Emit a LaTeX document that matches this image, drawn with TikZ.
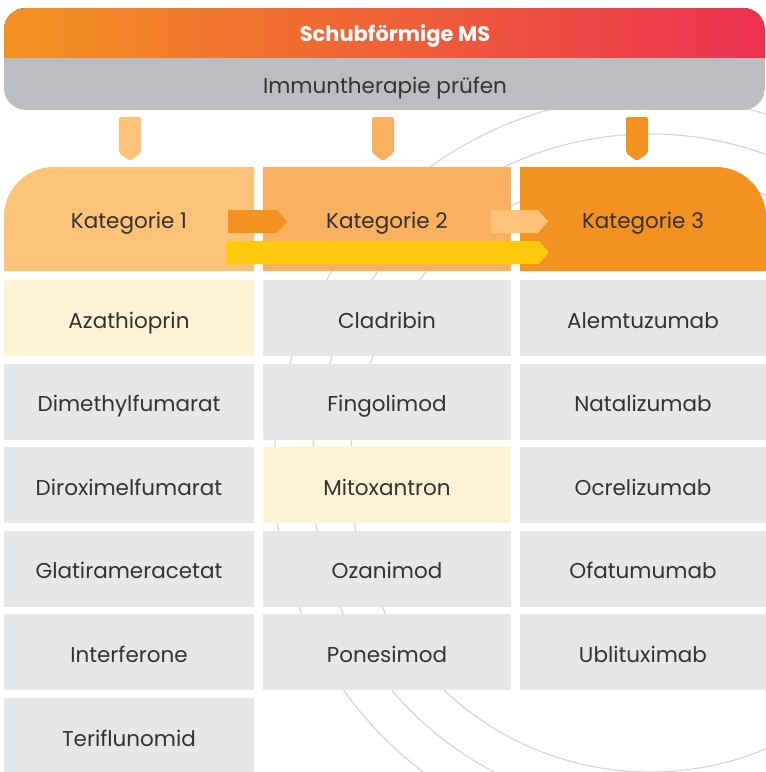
\documentclass[tikz,border=0pt]{standalone}
\usepackage{fontspec}
\setmainfont{Poppins}
\usetikzlibrary{positioning}
\definecolor{msorange}{HTML}{F39220}
\definecolor{msrot}{HTML}{EC3050}
\definecolor{kateins}{HTML}{FCC278}
\definecolor{katzwei}{HTML}{F9B05F}
\definecolor{kopfgrau}{HTML}{BCBDC0}
\definecolor{zellgrau}{HTML}{E6E7E8}
\definecolor{zellgelb}{HTML}{FEF2D4}
\definecolor{pfeilgelb}{HTML}{FEC80C}
\definecolor{schrift}{HTML}{333333}
\definecolor{kreis}{HTML}{D6D6D6}
\begin{document}
\begin{tikzpicture}[x=1pt,y=-1pt,font=\fontsize{21.5}{25}\selectfont,text=schrift,
  zelle/.style={minimum height=76pt,inner sep=0pt,text height=20pt,text depth=0pt}]
  \useasboundingbox (0,0) rectangle (766,772);
  % Kreise im Hintergrund
  \begin{scope}
    \clip (0,0) rectangle (766,772);
    \foreach \r in {300,338,376}
      \draw[kreis,line width=1.2pt] (650,472) circle (\r);
  \end{scope}
  % Kopf
  \begin{scope}
    \clip[rounded corners=22pt] (4,8) rectangle (765,110);
    \fill[left color=msorange,right color=msrot] (4,8) rectangle (765,58);
    \fill[kopfgrau] (4,58) rectangle (765,110);
  \end{scope}
  \node[anchor=base,text=white,font=\fontsize{21}{25}\selectfont\bfseries] (titel) at (395,41) {Schubförmige MS};
  \node[anchor=base] (pruefen) at (385,93) {Immuntherapie prüfen};
  % Zeiger
  \fill[kateins,rounded corners=2pt] (119,117) -- (141,117) -- (141,153) -- (130,161) -- (119,153) -- cycle;
  \fill[katzwei,rounded corners=2pt] (372,117) -- (394,117) -- (394,153) -- (383,161) -- (372,153) -- cycle;
  \fill[msorange,rounded corners=2pt] (626,117) -- (648,117) -- (648,153) -- (637,161) -- (626,153) -- cycle;
  % Kategorien
  \fill[kateins] (4,271) -- (4,217) arc[start angle=180,end angle=270,radius=50] -- (254,167) -- (254,271) -- cycle;
  \fill[katzwei] (263,167) rectangle (511,271);
  \fill[msorange] (520,271) -- (520,167) -- (716,167) arc[start angle=270,end angle=360,radius=50] -- (766,271) -- cycle;
  \node[anchor=base] (kat1) at (129,228) {Kategorie 1};
  \node[anchor=base] (kat2) at (387,228) {Kategorie 2};
  \node[anchor=base] (kat3) at (643,228) {Kategorie 3};
  % Pfeile
  \fill[msorange] (228,210) -- (277,210) -- (287,221.5) -- (277,233) -- (228,233) -- cycle;
  \fill[kateins] (491,210) -- (538,210) -- (548,221.5) -- (538,233) -- (491,233) -- cycle;
  \fill[pfeilgelb] (226,241) -- (539,241) -- (549,252.5) -- (539,264) -- (226,264) -- cycle;
  % Wirkstoffe
  \foreach \name/\fb [count=\i] in {Azathioprin/zellgelb,Dimethylfumarat/zellgrau,Diroximelfumarat/zellgrau,Glatirameracetat/zellgrau,Interferone/zellgrau,Teriflunomid/zellgrau}
    \node[zelle,fill=\fb,minimum width=250pt] (a\i) at (129,{318+83.6*(\i-1)}) {\name};
  \foreach \name/\fb [count=\i] in {Cladribin/zellgrau,Fingolimod/zellgrau,Mitoxantron/zellgelb,Ozanimod/zellgrau,Ponesimod/zellgrau}
    \node[zelle,fill=\fb,minimum width=248pt] (b\i) at (387,{318+83.6*(\i-1)}) {\name};
  \foreach \name [count=\i] in {Alemtuzumab,Natalizumab,Ocrelizumab,Ofatumumab,Ublituximab}
    \node[zelle,fill=zellgrau,minimum width=246pt] (c\i) at (643,{318+83.6*(\i-1)}) {\name};
\end{tikzpicture}
\end{document}
